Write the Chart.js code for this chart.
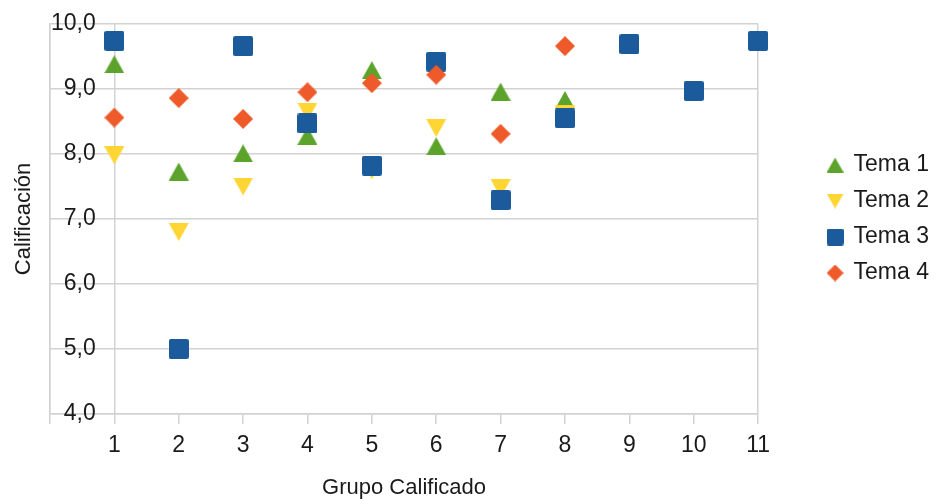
<!DOCTYPE html>
<html>
<head>
<meta charset="utf-8">
<script src="https://cdn.jsdelivr.net/npm/chart.js@4/dist/chart.umd.min.js"></script>
<style>
  html, body { margin: 0; padding: 0; background: #ffffff; }
  canvas { display: block; }
</style>
</head>
<body>
<canvas id="grafico" width="939" height="499"></canvas>
<script>
// Grupos evaluados (eje X) y calificación media de cada tema
const grupos = [1, 2, 3, 4, 5, 6, 7, 8, 9, 10, 11];
const tema1 = [9.38, 7.73, 8.01, 8.28, 9.29, 8.12, 8.96, 8.83, null, null, null];
const tema2 = [7.98, 6.80, 7.50, 8.65, 7.75, 8.40, 7.47, 8.61, null, null, null];
const tema3 = [9.74, 5.00, 9.66, 8.47, 7.82, 9.42, 7.29, 8.55, 9.69, 8.97, 9.74];
const tema4 = [8.56, 8.86, 8.54, 8.95, 9.09, 9.22, 8.31, 9.66, null, null, null];
const nombresSeries = ['Tema 1', 'Tema 2', 'Tema 3', 'Tema 4'];
const ejeY = { min: 4, max: 10, paso: 1 };
const ejeX = { min: 0, max: 11, paso: 1 };

const FUENTE = "'Liberation Sans', Arial, Helvetica, sans-serif";
const TEXTO = '#1a1a1a';
const REJILLA = '#d2d2d2';
const colores = ['#5ca32b', '#fed532', '#1b5a9b', '#ef5a2b'];

// Símbolos dibujados en un lienzo propio para que queden centrados en su valor
function simbolo(forma, color, w, h) {
  const c = document.createElement('canvas');
  c.width = w; c.height = h;
  const g = c.getContext('2d');
  g.fillStyle = color;
  g.beginPath();
  if (forma === 'arriba') {
    g.moveTo(w / 2, 0); g.lineTo(w, h); g.lineTo(0, h);
  } else if (forma === 'abajo') {
    g.moveTo(0, 0); g.lineTo(w, 0); g.lineTo(w / 2, h);
  } else if (forma === 'rombo') {
    g.moveTo(w / 2, 0); g.lineTo(w, h / 2); g.lineTo(w / 2, h); g.lineTo(0, h / 2);
  } else if (g.roundRect) {
    g.roundRect(0, 0, w, h, 2);
  } else {
    g.rect(0, 0, w, h);
  }
  g.closePath();
  g.fill();
  return c;
}

const marcas = [
  simbolo('arriba', colores[0], 20, 18),
  simbolo('abajo', colores[1], 20, 18),
  simbolo('cuadro', colores[2], 20, 20),
  simbolo('rombo', colores[3], 20, 20)
];
const marcasLeyenda = [
  simbolo('arriba', colores[0], 17, 15),
  simbolo('abajo', colores[1], 17, 15),
  simbolo('cuadro', colores[2], 17, 17),
  simbolo('rombo', colores[3], 17, 17)
];

function puntos(valores) {
  const out = [];
  valores.forEach((v, i) => { if (v !== null) out.push({ x: grupos[i], y: v }); });
  return out;
}

// Cada tema se pinta encima del anterior (Tema 4 queda arriba)
const series = [tema1, tema2, tema3, tema4];
const datasets = series.map((valores, i) => ({
  label: nombresSeries[i],
  data: puntos(valores),
  order: series.length - 1 - i,
  pointStyle: marcas[i],
  pointRadius: 10,
  pointHoverRadius: 10,
  backgroundColor: colores[i],
  borderColor: colores[i],
  showLine: false,
  clip: false
}));

new Chart(document.getElementById('grafico'), {
  type: 'scatter',
  data: { datasets },
  options: {
    responsive: false,
    animation: false,
    devicePixelRatio: 1,
    layout: { padding: { top: 24, left: 0, right: 0, bottom: 0 } },
    plugins: {
      tooltip: { enabled: false },
      legend: {
        position: 'right',
        align: 'center',
        fullSize: false,
        reverse: true,
        labels: {
          usePointStyle: true,
          boxWidth: 14,
          padding: 13,
          color: TEXTO,
          font: { family: FUENTE, size: 23 },
          generateLabels(chart) {
            const items = Chart.defaults.plugins.legend.labels.generateLabels(chart);
            items.forEach((it) => { it.pointStyle = marcasLeyenda[it.datasetIndex]; });
            return items;
          }
        }
      }
    },
    scales: {
      x: {
        type: 'linear',
        position: 'bottom',
        min: ejeX.min,
        max: ejeX.max,
        ticks: {
          stepSize: ejeX.paso,
          color: TEXTO,
          font: { family: FUENTE, size: 23 },
          padding: 8,
          maxRotation: 0,
          autoSkip: false,
          callback: (v) => (v === 0 ? '' : String(v))
        },
        grid: {
          color: (ctx) => ([0, 1, 11].includes(ctx.tick && ctx.tick.value) ? REJILLA : 'rgba(0,0,0,0)'),
          tickColor: REJILLA,
          tickLength: 10,
          lineWidth: 1.5
        },
        border: { display: true, color: REJILLA, width: 1.5 },
        title: {
          display: true,
          text: 'Grupo Calificado',
          color: TEXTO,
          font: { family: FUENTE, size: 22, lineHeight: 1 },
          padding: { top: 9.4, bottom: 0 }
        }
      },
      y: {
        type: 'linear',
        position: 'left',
        min: ejeY.min,
        max: ejeY.max,
        ticks: {
          stepSize: ejeY.paso,
          mirror: true,
          crossAlign: 'far',
          padding: 1,
          color: TEXTO,
          font: { family: FUENTE, size: 23 },
          callback: (v) => v.toFixed(1).replace('.', ',')
        },
        grid: { color: REJILLA, lineWidth: 1.5, drawTicks: false },
        border: { display: true, color: REJILLA, width: 1.5 },
        title: {
          display: true,
          text: 'Calificación',
          color: TEXTO,
          font: { family: FUENTE, size: 22, lineHeight: 1 },
          padding: { top: 13, bottom: 13 }
        }
      },
      separacionLeyenda: {
        type: 'linear',
        axis: 'y',
        position: 'right',
        display: true,
        ticks: { display: false },
        grid: { display: false, drawTicks: false },
        border: { display: false },
        title: { display: true, text: '', font: { size: 10, lineHeight: 1 }, padding: { top: 47, bottom: 0 } }
      }
    }
  }
});
</script>
</body>
</html>
